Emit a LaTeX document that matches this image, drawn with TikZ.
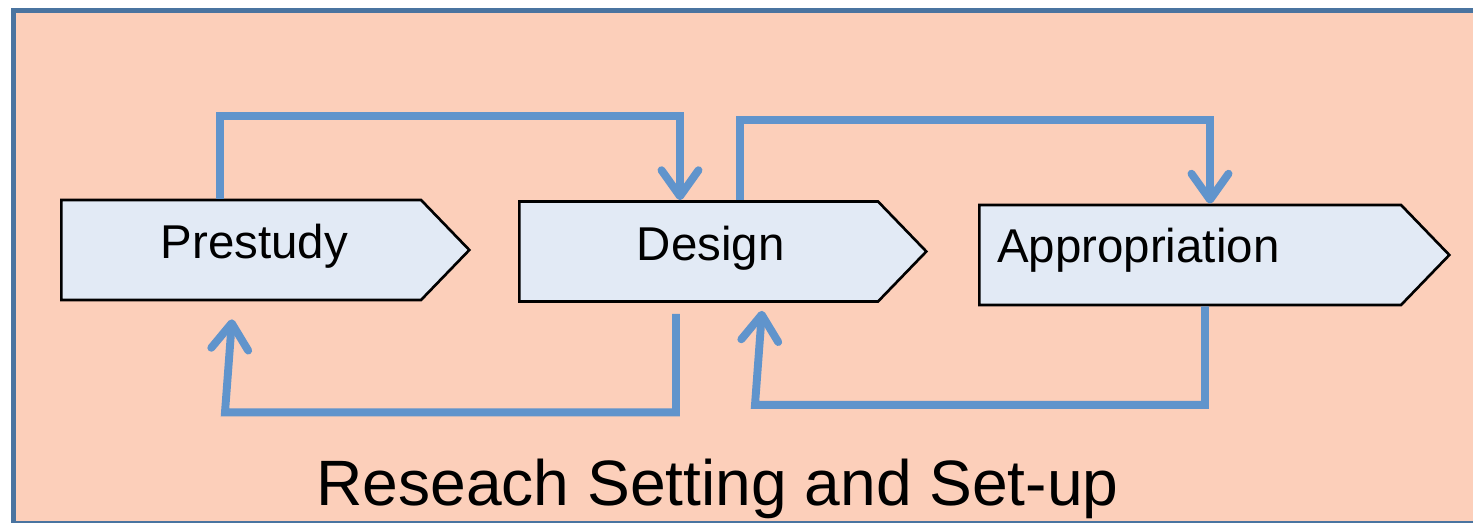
\documentclass[tikz,border=0pt]{standalone}
\usepackage{fontspec}
\setmainfont{Liberation Sans}
\usetikzlibrary{shapes.symbols,arrows.meta}

\definecolor{setupbg}{HTML}{FCCFBA}
\definecolor{setupframe}{HTML}{4A74A0}
\definecolor{stagefill}{HTML}{E2EAF5}
\definecolor{loopblue}{HTML}{6094CC}

\begin{document}
\begin{tikzpicture}[
    stage/.style={signal, signal to=east, signal pointer angle=92, draw=black,
        line width=1.5pt, fill=stagefill, minimum height=2cm, inner sep=0pt, anchor=west},
    stagelabel/.style={font=\fontsize{27}{32}\selectfont},
    loop/.style={draw=loopblue, line width=4.5pt,
        -{Straight Barb[round, length=0.52cm, width=0.74cm]}}
]
    \useasboundingbox (0,0) rectangle (29.46,10.46);
    \clip (0,0) rectangle (29.46,10.46);
    \draw[setupframe, line width=0.11cm, fill=setupbg] (0.27,-0.01) rectangle (30.5,10.25);

    \node[stage, minimum width=8.16cm] (pre) at (1.2,5.46) {};
    \node[stage, minimum width=8.14cm] (des) at (10.36,5.43) {};
    \node[stage, minimum width=9.4cm] (app) at (19.56,5.36) {};

    \node[stagelabel] (prelabel) at ([xshift=0.26cm, yshift=0.08cm]pre.center) {Prestudy};
    \node[stagelabel] (deslabel) at ([xshift=0.24cm, yshift=0.06cm]des.center) {Design};
    \node[stagelabel, anchor=west] (applabel) at ([xshift=0.26cm, yshift=0.1cm]app.west) {Appropriation};

    \draw[loop] ([xshift=3.2cm]pre.north west) -- ++(0,1.66) -| ([xshift=3.24cm]des.north west);
    \draw[loop] ([xshift=4.44cm]des.north west) -- ++(0,1.6) -| ([xshift=4.64cm]app.north west);
    \draw[loop] ([xshift=3.16cm, yshift=-0.22cm]des.south west) |- ([xshift=3.3cm, yshift=-2.22cm]pre.south west)
        -- ([xshift=3.44cm, yshift=-0.36cm]pre.south west);
    \draw[loop] ([xshift=4.54cm]app.south west) |- ([xshift=4.74cm, yshift=-2.04cm]des.south west)
        -- ([xshift=4.88cm, yshift=-0.16cm]des.south west);

    \node[font=\fontsize{36.5}{44}\selectfont, anchor=base] (setting) at (14.35,0.34) {Reseach Setting and Set-up};
\end{tikzpicture}
\end{document}
